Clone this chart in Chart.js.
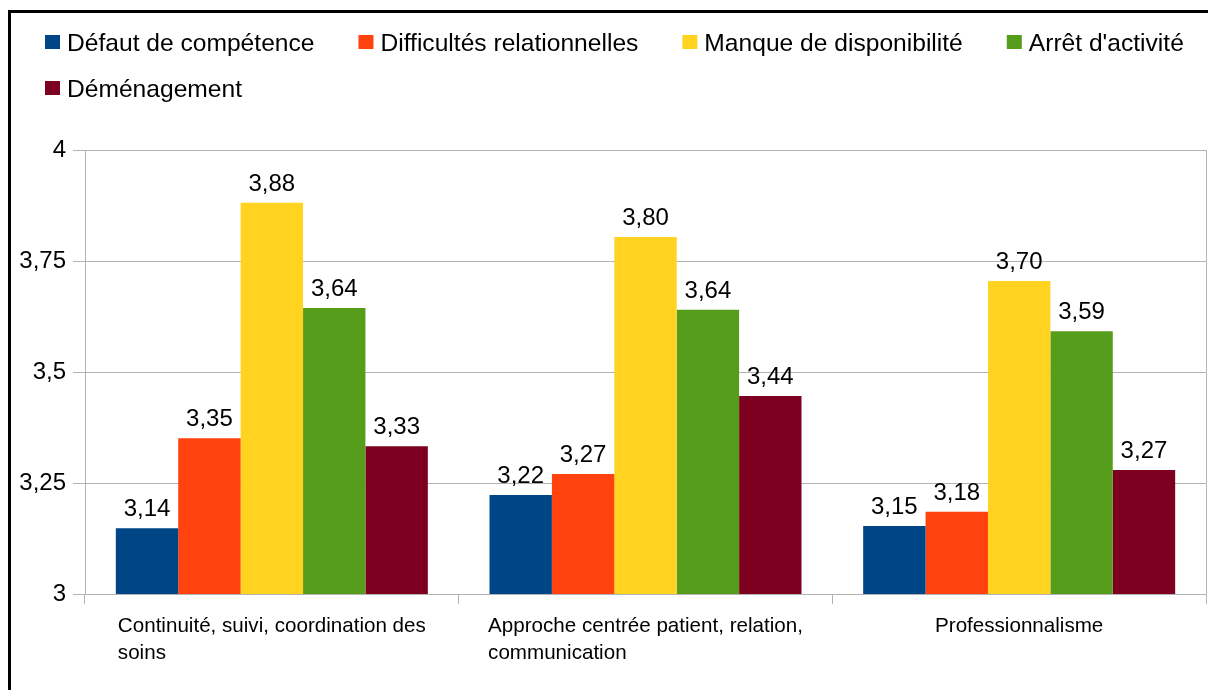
<!DOCTYPE html>
<html>
<head>
<meta charset="utf-8">
<script src="https://cdn.jsdelivr.net/npm/chart.js@4"></script>
<style>
  body { margin: 0; background: #fff; }
  #wrap { position: relative; width: 1208px; height: 690px; overflow: hidden; }
  #frame { position: absolute; left: 8px; top: 10px; width: 1400px; height: 900px; border: 3px solid #000; pointer-events: none; }
</style>
</head>
<body>
<div id="wrap">
  <canvas id="chart" width="1208" height="690"></canvas>
  <div id="frame"></div>
</div>
<script>
// Data
const categories = [
    ['Continuité, suivi, coordination des', 'soins'],
    ['Approche centrée patient, relation,', 'communication'],
    ['Professionnalisme']
];
const seriesNames = ['Défaut de compétence', 'Difficultés relationnelles', 'Manque de disponibilité', "Arrêt d'activité", 'Déménagement'];
const defautCompetence = [3.148, 3.223, 3.153];
const difficultesRelationnelles = [3.351, 3.270, 3.185];
const manqueDisponibilite = [3.881, 3.804, 3.705];
const arretActivite = [3.644, 3.640, 3.592];
const demenagement = [3.333, 3.446, 3.279];
const colors = ['#004586', '#ff420e', '#ffd320', '#579d1c', '#7e0021'];
const yTicks = [3, 3.25, 3.5, 3.75, 4];

const FONT = '"Liberation Sans", Arial, sans-serif';
const frNum = v => String(v).replace('.', ',');
const labelFmt = v => (Math.floor(v * 100 + 1e-6) / 100).toFixed(2).replace('.', ',');

// legend drawn by hand: Chart.js uses one padding for both row gap and item gap
const legendPlugin = {
    id: 'handLegend',
    afterDraw(chart) {
        const ctx = chart.ctx;
        ctx.save();
        ctx.font = '24.6px ' + FONT;
        ctx.textAlign = 'left';
        ctx.textBaseline = 'alphabetic';
        let x = 45, row = 0;
        chart.data.datasets.forEach(ds => {
            const w = ctx.measureText(ds.label).width;
            if (x + 22 + w > 1200) { x = 45; row++; }
            const base = 51 + row * 46;
            ctx.fillStyle = ds.backgroundColor;
            ctx.fillRect(x, base - 16, 15, 14);
            ctx.fillStyle = '#000';
            ctx.fillText(ds.label, x + 22, base);
            x += 22 + w + 44;
        });
        ctx.restore();
    }
};

// value labels above bars
const valueLabels = {
    id: 'valueLabels',
    afterDatasetsDraw(chart) {
        const ctx = chart.ctx;
        ctx.save();
        ctx.font = '24px ' + FONT;
        ctx.fillStyle = '#000';
        ctx.textAlign = 'center';
        ctx.textBaseline = 'alphabetic';
        chart.data.datasets.forEach((ds, i) => {
            chart.getDatasetMeta(i).data.forEach((bar, j) => {
                ctx.fillText(labelFmt(ds.data[j]), bar.x, bar.y - 12);
            });
        });
        ctx.restore();
    }
};

// category labels: block centred, lines left-aligned
const categoryLabels = {
    id: 'categoryLabels',
    afterDraw(chart) {
        const ctx = chart.ctx;
        const xs = chart.scales.x;
        ctx.save();
        ctx.font = '20.6px ' + FONT;
        ctx.fillStyle = '#000';
        ctx.textAlign = 'left';
        ctx.textBaseline = 'alphabetic';
        categories.forEach((lines, i) => {
            const cx = xs.getPixelForValue(i);
            const w = Math.max(...lines.map(l => ctx.measureText(l).width));
            lines.forEach((l, k) => ctx.fillText(l, cx - w / 2, xs.top + 38 + k * 27));
        });
        ctx.restore();
    }
};

const seriesData = [defautCompetence, difficultesRelationnelles, manqueDisponibilite, arretActivite, demenagement];

new Chart(document.getElementById('chart').getContext('2d'), {
    type: 'bar',
    data: {
        labels: categories.map(c => c.join(' ')),
        datasets: seriesNames.map((name, i) => ({
            label: name,
            data: seriesData[i],
            backgroundColor: colors[i],
            borderWidth: 0,
            barPercentage: 1,
            categoryPercentage: 0.835
        }))
    },
    options: {
        responsive: false,
        maintainAspectRatio: false,
        animation: false,
        layout: { padding: { top: 150, left: 10, right: 2, bottom: 0 } },
        plugins: {
            legend: { display: false },
            tooltip: { enabled: false }
        },
        scales: {
            x: {
                grid: {
                    offset: true,
                    color: c => c.tick ? 'rgba(0,0,0,0)' : '#b3b3b3',
                    tickColor: '#b3b3b3',
                    tickLength: 10,
                    drawTicks: true
                },
                border: { display: true, color: '#b3b3b3' },
                ticks: { display: false },
                afterFit(scale) { scale.height = 96; }
            },
            y: {
                min: 3,
                max: 4,
                afterBuildTicks(scale) { scale.ticks = yTicks.map(v => ({ value: v })); },
                grid: { color: '#b3b3b3', tickLength: 12 },
                border: { display: true, color: '#b3b3b3' },
                ticks: {
                    color: '#000',
                    padding: 7,
                    font: { family: FONT, size: 24 },
                    callback: v => frNum(v)
                },
                afterFit(scale) { scale.width = 75; }
            }
        }
    },
    plugins: [legendPlugin, valueLabels, categoryLabels]
});
</script>
</body>
</html>
